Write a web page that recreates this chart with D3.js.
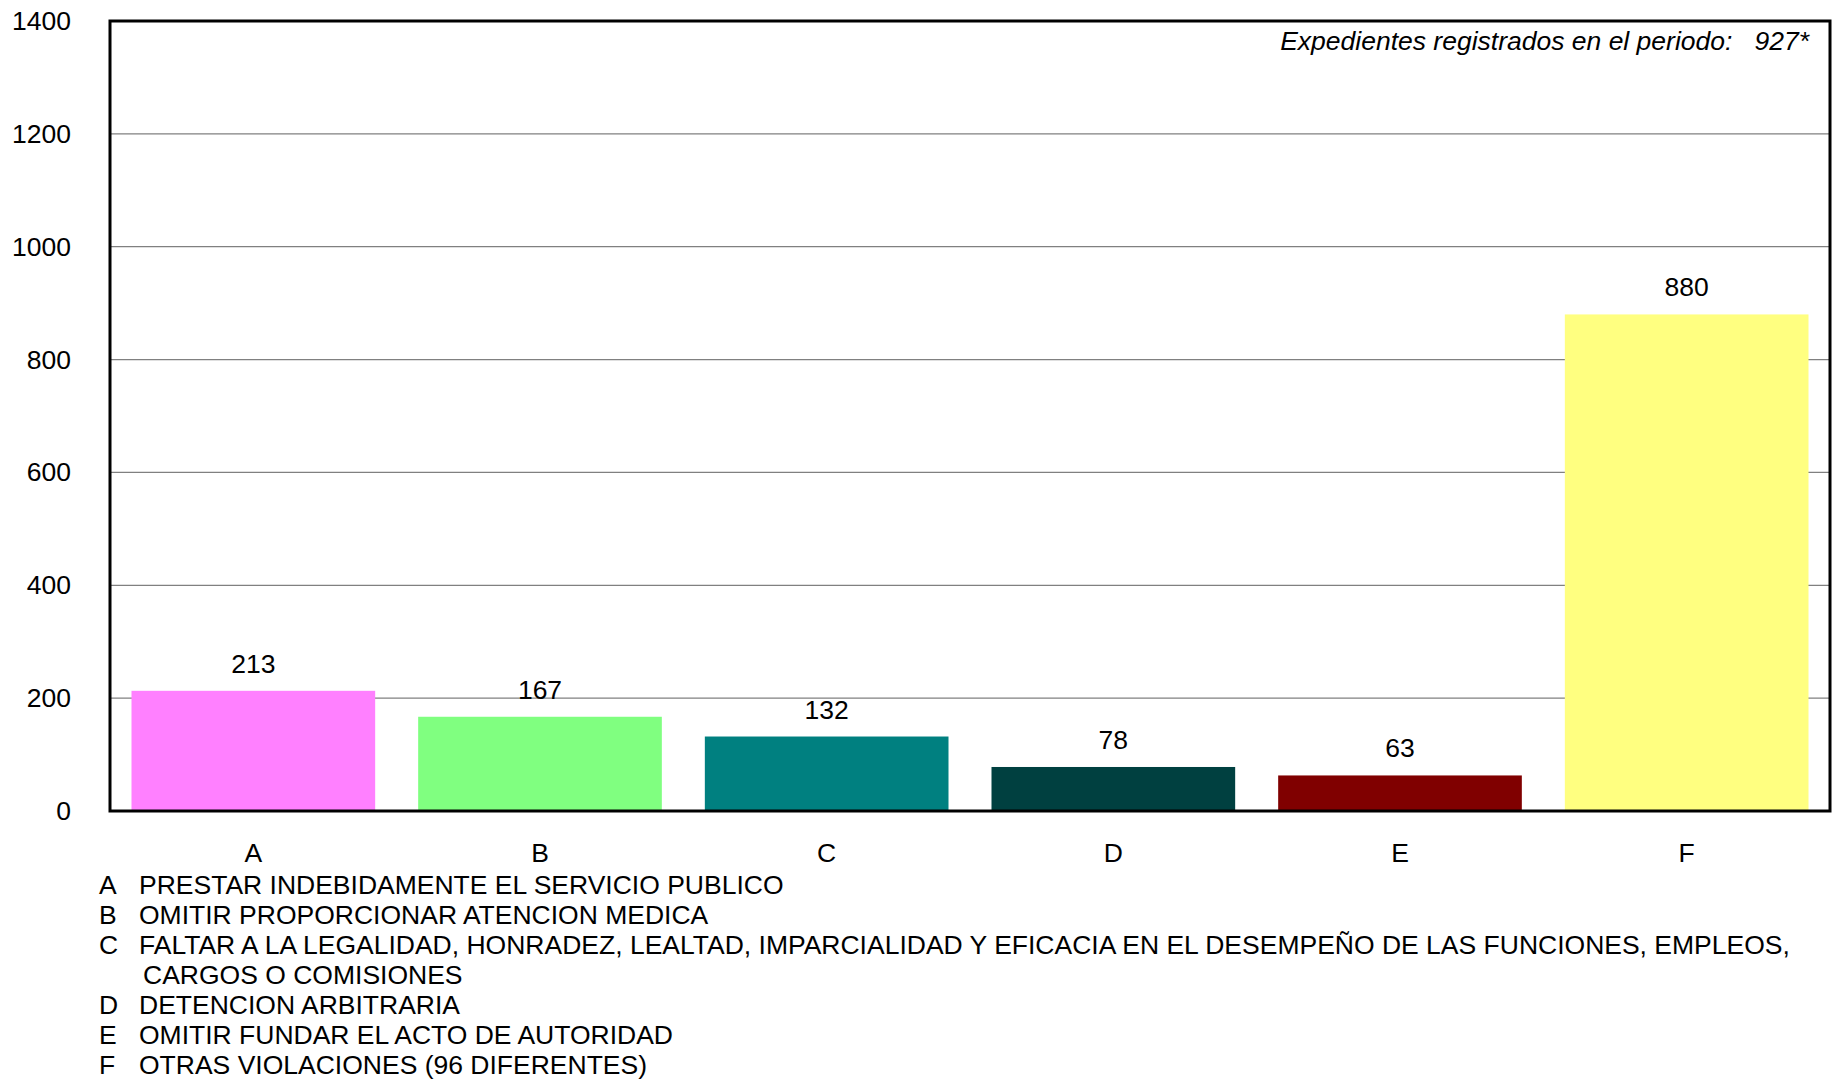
<!DOCTYPE html>
<html><head><meta charset="utf-8">
<script src="https://cdn.jsdelivr.net/npm/d3@7"></script>
<style>body{margin:0;background:#fff}svg{display:block}text{font-family:"Liberation Sans",Arial,sans-serif;fill:#000}</style>
</head><body><svg id="c" width="1836" height="1082"></svg>
<script>
const categories = ["A","B","C","D","E","F"];
const values = [213,167,132,78,63,880];
const colors = ["#FF80FF","#80FF80","#008080","#004040","#800000","#FFFF80"];
const yTicks = [0,200,400,600,800,1000,1200,1400];
const legendKeys = ["A","B","C","","D","E","F"];
const legendTexts = [
 "PRESTAR INDEBIDAMENTE EL SERVICIO PUBLICO",
 "OMITIR PROPORCIONAR ATENCION MEDICA",
 "FALTAR A LA LEGALIDAD, HONRADEZ, LEALTAD, IMPARCIALIDAD Y EFICACIA EN EL DESEMPEÑO DE LAS FUNCIONES, EMPLEOS,",
 "CARGOS O COMISIONES",
 "DETENCION ARBITRARIA",
 "OMITIR FUNDAR EL ACTO DE AUTORIDAD",
 "OTRAS VIOLACIONES (96 DIFERENTES)"
];
const annotation = "Expedientes registrados en el periodo:   927*";

const svg = d3.select("#c");
const L=110, R=1830, T=21, B=811;
const x = d3.scaleBand().domain(categories).range([L,R]).paddingInner(0.15).paddingOuter(0.075);
const y = d3.scaleLinear().domain([0,1400]).range([B,T]);
const fs = 26.5;
const ff = '"Liberation Sans",Arial,sans-serif';

// gridlines
svg.append("g").selectAll("line").data(yTicks.filter(d=>d>0&&d<1400)).join("line")
 .attr("x1",L).attr("x2",R).attr("y1",d=>y(d)).attr("y2",d=>y(d))
 .attr("stroke","#808080").attr("stroke-width",1.2);

// bars
svg.append("g").selectAll("rect").data(values).join("rect")
 .attr("x",(d,i)=>x(categories[i])).attr("width",x.bandwidth())
 .attr("y",d=>y(d)).attr("height",d=>B-y(d)).attr("fill",(d,i)=>colors[i]);

// value labels
svg.append("g").selectAll("text").data(values).join("text")
 .attr("x",(d,i)=>x(categories[i])+x.bandwidth()/2).attr("y",d=>y(d)-18)
 .attr("text-anchor","middle").style("font-size",fs+"px").text(d=>d);

// frame
svg.append("rect").attr("x",L).attr("y",T).attr("width",R-L).attr("height",B-T)
 .attr("fill","none").attr("stroke","#000").attr("stroke-width",3);

// y axis
const ya = svg.append("g").attr("transform",`translate(${L},0)`)
 .call(d3.axisLeft(y).tickValues(yTicks).tickFormat(d3.format("d")).tickSize(0).tickPadding(39));
ya.select(".domain").remove();
ya.selectAll("text").style("font-size",fs+"px").attr("fill","#000").style("font-family",ff);

// x axis
const xa = svg.append("g").attr("transform",`translate(0,${B})`)
 .call(d3.axisBottom(x).tickSize(0).tickPadding(0));
xa.select(".domain").remove();
xa.selectAll("text").attr("dy",null).attr("y",50.5).style("font-size",fs+"px").attr("fill","#000").style("font-family",ff);

// annotation
svg.append("text").attr("x",1809).attr("y",50).attr("text-anchor","end")
 .style("font-size",fs+"px").style("font-style","italic").style("white-space","pre").attr("xml:space","preserve").text(annotation);

// legend
const lg = svg.append("g");
legendTexts.forEach((t,i)=>{
  const yy = 894 + i*30.0;
  if(legendKeys[i]) lg.append("text").attr("x",99).attr("y",yy).style("font-size",fs+"px").text(legendKeys[i]);
  lg.append("text").attr("x", legendKeys[i]? 139 : 143).attr("y",yy).style("font-size",fs+"px").text(t);
});
</script></body></html>
